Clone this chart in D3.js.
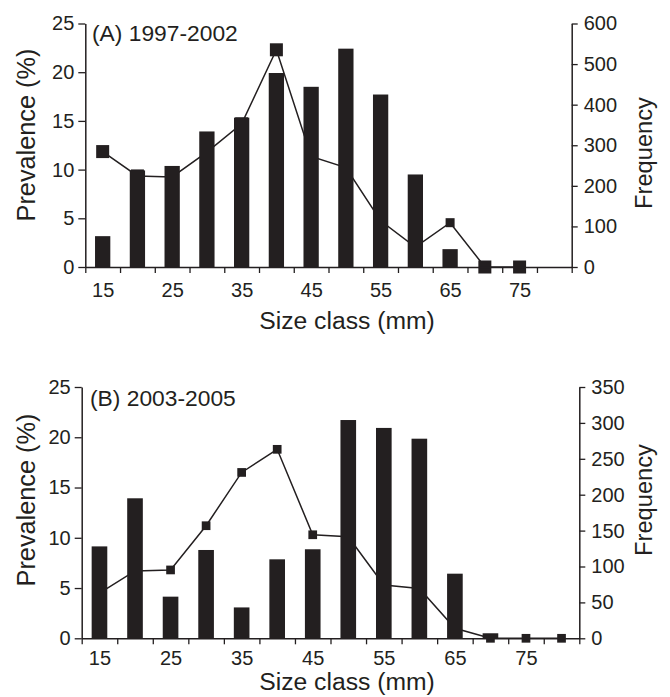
<!DOCTYPE html>
<html>
<head>
<meta charset="utf-8">
<script src="https://cdn.jsdelivr.net/npm/d3@7"></script>
<style>
  body { margin: 0; background: #fff; }
  text { font-family: "Liberation Sans", Arial, Helvetica, sans-serif; fill: #231f20; }
</style>
</head>
<body>
<div id="viz"></div>
<script>
// size classes (mm) and the labelled ones on the x axis
const sizeClasses = [15, 20, 25, 30, 35, 40, 45, 50, 55, 60, 65, 70, 75, 80];
const sizeLabels = [15, 25, 35, 45, 55, 65, 75];

// (A) 1997-2002
const freqA = [76, 238, 249, 334, 368, 478, 444, 538, 425, 228, 44, 0, 0, 0];
const prevA = [11.85, 9.35, 9.25, 11.8, 14.7, 22.3, 11.35, 10.2, 4.75, 2.05, 4.55, 0, 0, null];

// (B) 2003-2005
const freqB = [128, 195, 58, 123, 43, 110, 124, 304, 293, 278, 90, 7, 0, 0];
const prevB = [4.5, 6.7, 6.8, 11.2, 16.5, 18.8, 10.3, 10.1, 5.3, 4.95, 1.0, 0, 0, 0];

const prevTicks = [0, 5, 10, 15, 20, 25];
const freqTicksA = [0, 100, 200, 300, 400, 500, 600];
const freqTicksB = [0, 50, 100, 150, 200, 250, 300, 350];

const ink = '#231f20';
const width = 670, height = 697;

const svg = d3.select('#viz').append('svg')
  .attr('width', width)
  .attr('height', height);

function drawPanel(p) {
  const g = svg.append('g');

  // bands edges at 12.5, 17.5 ... 82.5
  const x = d3.scaleLinear().domain([12.5, 82.5]).range([p.left, p.right]);
  const yPrev = d3.scaleLinear().domain([0, 25]).range([p.bottom, p.top]);
  const yFreq = d3.scaleLinear().domain([0, p.freqMax]).range([p.bottom, p.top]);
  const band = x(17.5) - x(12.5);
  const barW = band * 0.44;

  const rows = sizeClasses.map((s, i) => ({ size: s, freq: p.freq[i], prev: p.prev[i] }));

  // prevalence line + markers (under the bars)
  const line = d3.line()
    .defined(d => d.prev !== null)
    .x(d => x(d.size))
    .y(d => yPrev(d.prev));

  g.append('path')
    .datum(rows)
    .attr('d', line)
    .attr('fill', 'none')
    .attr('stroke', ink)
    .attr('stroke-width', 1.5);

  g.selectAll('rect.mark')
    .data(rows.filter(d => d.prev !== null))
    .join('rect')
    .attr('class', 'mark')
    .attr('x', d => x(d.size) - p.marker(d) / 2)
    .attr('y', d => yPrev(d.prev) - p.marker(d) / 2)
    .attr('width', d => p.marker(d))
    .attr('height', d => p.marker(d))
    .attr('fill', ink);

  // frequency bars
  g.selectAll('rect.bar')
    .data(rows.filter(d => d.freq > 0))
    .join('rect')
    .attr('class', 'bar')
    .attr('x', d => x(d.size) - barW / 2)
    .attr('y', d => yFreq(d.freq))
    .attr('width', barW)
    .attr('height', d => p.bottom - yFreq(d.freq))
    .attr('fill', ink);

  // x axis: ticks on band edges, labels at centres
  const edges = d3.range(12.5, 83, 5);
  const xTicks = g.append('g')
    .attr('transform', `translate(0,${p.bottom})`)
    .call(d3.axisBottom(x).tickValues(edges).tickFormat('').tickSize(6).tickSizeOuter(0));
  const xLabels = g.append('g')
    .attr('transform', `translate(0,${p.bottom})`)
    .call(d3.axisBottom(x).tickValues(sizeLabels).tickSize(0).tickPadding(p.xPad));
  xLabels.select('.domain').remove();

  const yl = g.append('g')
    .attr('transform', `translate(${p.left},0)`)
    .call(d3.axisLeft(yPrev).tickValues(prevTicks).tickSize(7).tickPadding(4).tickSizeOuter(0));

  const yr = g.append('g')
    .attr('transform', `translate(${p.right},0)`)
    .call(d3.axisRight(yFreq).tickValues(p.freqTicks).tickSize(6).tickPadding(6).tickSizeOuter(0));

  [xTicks, xLabels, yl, yr].forEach(a => {
    a.selectAll('text').attr('font-size', 20).style('fill', ink)
      .attr('font-family', '"Liberation Sans", Arial, sans-serif');
    a.selectAll('line').attr('stroke', ink).attr('stroke-width', 1.3);
    a.selectAll('.domain').attr('stroke', ink).attr('stroke-width', 1.5);
  });

  // titles
  g.append('text')
    .attr('x', p.titleX)
    .attr('y', p.titleY)
    .attr('font-size', 22.8)
    .text(p.title);

  g.append('text')
    .attr('x', 347)
    .attr('y', p.xLabelY)
    .attr('text-anchor', 'middle')
    .attr('font-size', 24.7)
    .text('Size class (mm)');

  g.append('text')
    .attr('transform', `translate(35,${p.yMid}) rotate(-90)`)
    .attr('text-anchor', 'middle')
    .attr('font-size', 25.3)
    .text('Prevalence (%)');

  g.append('text')
    .attr('transform', `translate(652,${p.fMid}) rotate(-90)`)
    .attr('text-anchor', 'middle')
    .attr('font-size', 23.7)
    .text('Frequency');
}

drawPanel({
  left: 85.3, right: 571.7, top: 23.5, bottom: 267,
  freq: freqA, prev: prevA,
  freqMax: 600, freqTicks: freqTicksA,
  marker: d => d.size === 65 ? 9 : 13,
  xPad: 16,
  title: '(A) 1997-2002', titleX: 92, titleY: 41,
  xLabelY: 329, yMid: 135, fMid: 153
});

drawPanel({
  left: 81.7, right: 579.3, top: 387, bottom: 638.3,
  freq: freqB, prev: prevB,
  freqMax: 350, freqTicks: freqTicksB,
  marker: d => 8.7,
  xPad: 13,
  title: '(B) 2003-2005', titleX: 90, titleY: 406,
  xLabelY: 690, yMid: 500, fMid: 500
});
</script>
</body>
</html>
